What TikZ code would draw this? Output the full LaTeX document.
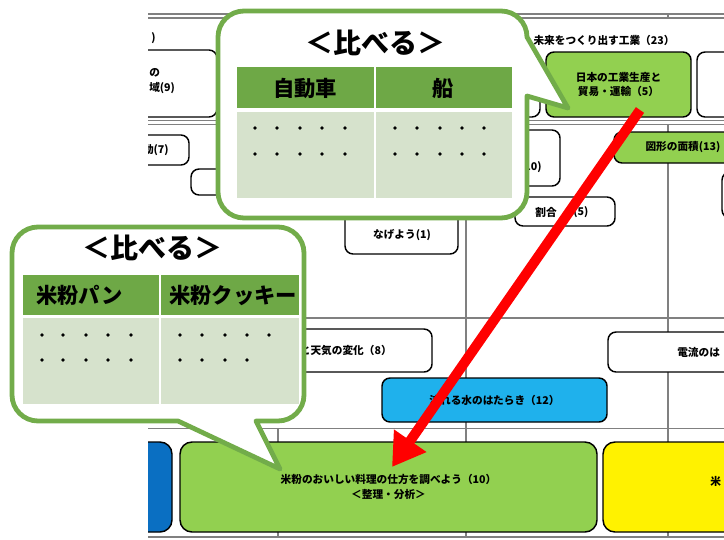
\documentclass[tikz,border=0pt]{standalone}
\usepackage{fontspec}
\newfontfamily\jp{Noto Sans CJK JP}
\usetikzlibrary{arrows.meta}
\definecolor{bgreen}{HTML}{72AC4A}
\definecolor{hgreen}{HTML}{6EA846}
\definecolor{lgreen}{HTML}{D6E2CC}
\definecolor{kgreen}{HTML}{92D050}
\definecolor{skyb}{HTML}{1FB1EC}
\definecolor{darkb}{HTML}{0A6FC2}
\definecolor{gridc}{HTML}{808080}
\newcommand\bx[6]{\node[box,#6,minimum width={(#4-#2)*0.75pt},minimum height={(#5-#3)*0.75pt}] (#1) at ({(#2+#4)/2},{(#3+#5)/2}) {};}
\begin{document}
\begin{tikzpicture}[x=0.75pt,y=-0.75pt,font=\jp,
  box/.style={draw=black,line width=1.1pt,rounded corners=6pt,inner sep=0pt,fill=white},
  bigbox/.style={rounded corners=9pt},
  lbl/.style={font=\jp\bfseries\fontsize{8}{11}\selectfont,inner sep=0pt,align=center},
  grid/.style={draw=gridc,line width=0.8pt},
  bub/.style={draw=bgreen,line width=3.6pt,fill=white,line join=round},
  ttl/.style={font=\jp\bfseries\fontsize{21}{24}\selectfont,inner sep=0pt},
  hdr/.style={font=\jp\bfseries\fontsize{16}{19}\selectfont,inner sep=0pt},
  dot/.style={fill=black}]
\useasboundingbox (0,0) rectangle (724,539);
\begin{scope}
\clip (148,0) rectangle (724,539);
% grid
\draw[grid] (148,14) -- (724,14);
\draw[grid] (148,18) -- (724,18);
\draw[grid] (668,14) -- (668,18);
\draw[grid] (148,120.5) -- (724,120.5);
\draw[grid] (148,124.5) -- (724,124.5);
\draw[grid] (148,318) -- (724,318);
\draw[grid] (148,428.5) -- (724,428.5);
\draw[grid] (148,537) -- (724,537);
\draw[grid] (466,124.5) -- (466,537);
\draw[grid] (668,124.5) -- (668,537);
\draw[grid] (278,428.5) -- (278,537);
% top band
\node[lbl,anchor=east] (t0) at (156,38) {)};
\node[lbl] (t23) at (604,40) {未来をつくり出す工業（23）};
\bx{b9}{110}{50}{217}{117}{}
\node[lbl,anchor=west,align=left] (t9) at (149,81) {の\\域(9)};
\bx{bh}{300}{52}{540}{117}{}
\bx{b5}{546}{52}{691}{117}{fill=kgreen}
\node[lbl] (t5) at (b5) {日本の工業生産と\\貿易・運輸（5）};
\bx{br}{697}{52}{790}{117}{}
% middle band
\bx{b7}{100}{135}{189}{165}{}
\node[lbl,anchor=east] (t7) at (169,150) {動(7)};
\bx{be}{191}{169}{270}{195}{}
\bx{b10}{400}{130}{560}{186}{}
\node[lbl,anchor=east] (t10) at (542,167) {(10)};
\bx{bw}{515}{197}{615}{226}{}
\node[lbl,anchor=east] (t6a) at (557,212) {割合};
\node[lbl,anchor=west] (t6b) at (573,212) {(5)};
\bx{b13}{614}{132}{752}{163}{fill=kgreen}
\node[lbl] (t13) at (b13) {図形の面積(13)};
\bx{bx}{722}{172}{800}{218}{}
\bx{b1}{345}{195}{458}{254}{}
\node[lbl] (t1) at (402,235) {なげよう(1)};
% lower band
\bx{b8}{200}{329}{432}{372}{}
\node[lbl,anchor=east] (t8) at (392,351) {雲と天気の変化（8）};
\bx{bd}{608}{332}{790}{372}{}
\node[lbl,anchor=west] (td) at (677,352) {電流のは};
\bx{b12}{382}{378}{607}{422}{fill=skyb}
\node[lbl] (t12) at (b12) {流れる水のはたらき（12）};
% bottom band
\bx{bb}{100}{442}{172}{532}{fill=darkb,bigbox}
\bx{bg}{180}{442}{597}{532}{fill=kgreen,bigbox}
\node[lbl] (tg) at (bg) {米粉のおいしい料理の仕方を調べよう（10）\\＜整理・分析＞};
\bx{by}{603}{442}{800}{532}{fill=yellow,bigbox}
\node[lbl,anchor=west] (ty) at (710,481) {米};
\end{scope}
% bubble 1
\draw[bub] (244,11) -- (501,11) arc[start angle=-90,end angle=0,radius=26]
  -- (568,108) -- (527,96) -- (527,192) arc[start angle=0,end angle=90,radius=26]
  -- (244,218) arc[start angle=90,end angle=180,radius=26]
  -- (218,37) arc[start angle=180,end angle=270,radius=26] -- cycle;
\node[ttl] (ttl1) at (375,43) {＜比べる＞};
\fill[hgreen] (237,67) rectangle (512,108);
\fill[lgreen] (237,112) rectangle (512,198);
\draw[white,line width=1.5pt] (375,67) -- (375,198);
\node[hdr] (h1a) at (305,88) {自動車};
\node[hdr] (h1b) at (443,88) {船};
\foreach \x in {255,277,300,322,345,395,417,440,462,484}
  \foreach \y in {128,154} \fill[dot] (\x,\y) circle (1.9);
% bubble 2
\draw[bub] (38,227) -- (278,227) arc[start angle=-90,end angle=0,radius=26]
  -- (304,395) arc[start angle=0,end angle=90,radius=26]
  -- (256,421) -- (280,469) -- (178,421) -- (38,421)
  arc[start angle=90,end angle=180,radius=26]
  -- (12,253) arc[start angle=180,end angle=270,radius=26] -- cycle;
\node[ttl] (ttl2) at (152,248) {＜比べる＞};
\fill[hgreen] (23,275) rectangle (299,315);
\fill[lgreen] (23,318) rectangle (299,404);
\draw[white,line width=1.5pt] (160,275) -- (160,404);
\node[hdr,anchor=west] (h2a) at (36,295) {米粉パン};
\node[hdr,anchor=west] (h2b) at (169,295) {米粉クッキー};
\foreach \x in {42,63,86,108,131}
  \foreach \y in {335,360} \fill[dot] (\x,\y) circle (1.9);
\foreach \x in {180,202,225,247,269} \fill[dot] (\x,335) circle (1.9);
\foreach \x in {180,202,225,247} \fill[dot] (\x,360) circle (1.9);
% red arrow
\coordinate (as) at (640,110);
\coordinate (ae) at (392,467);
\draw[red,line width=7.5pt,-{Triangle[length=24pt,width=28pt]}] (as) -- (ae);
\end{tikzpicture}
\end{document}
